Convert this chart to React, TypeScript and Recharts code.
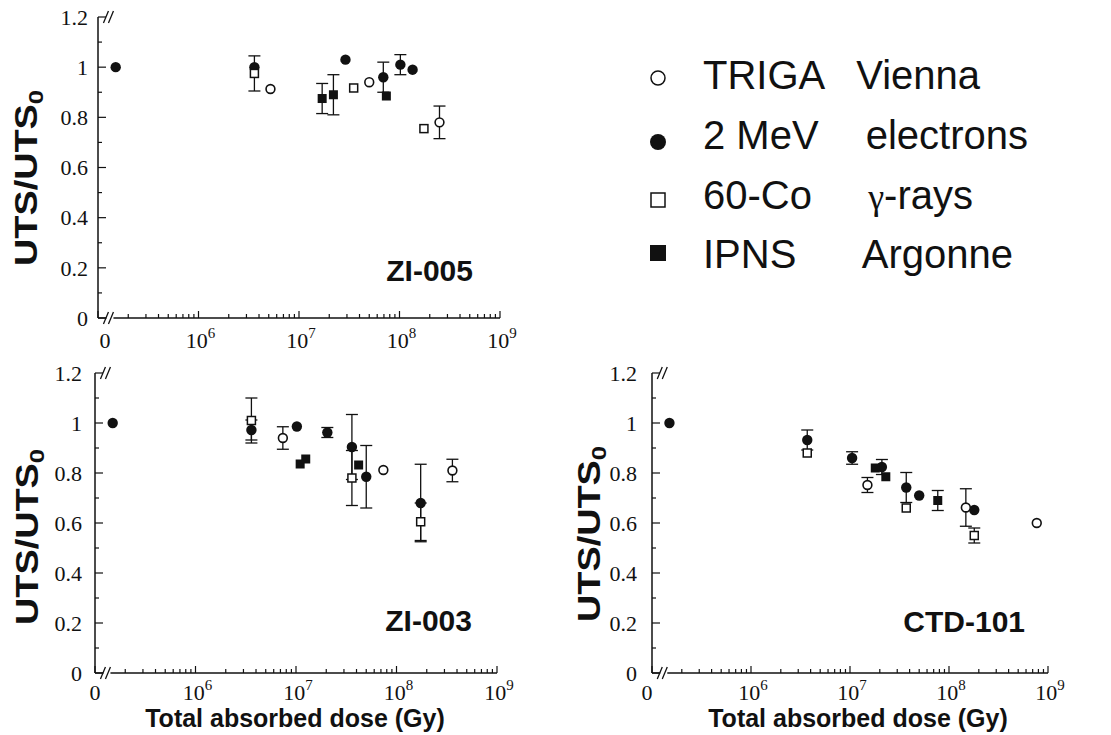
import { ScatterChart, Scatter, XAxis, YAxis, ErrorBar, ReferenceDot } from "recharts";

const INK = "#111";
const SERIF = "'Liberation Serif', 'Times New Roman', serif";
const SANS = "'Liberation Sans', Arial, sans-serif";

// the axis is broken: "0" sits at 1e5, unirradiated points just to its right
const ZERO_DOSE = 1.5e5;
const BREAK_DOSE = 1.33e5;

type Pt = { dose: number; uts: number; err?: number };

// ZI-005
const ZI005_TRIGA: Pt[] = [
  { dose: 5.2e6, uts: 0.913 },
  { dose: 5.0e7, uts: 0.94 },
  { dose: 2.5e8, uts: 0.78, err: 0.065 },
];
const ZI005_ELECTRONS: Pt[] = [
  { dose: ZERO_DOSE, uts: 1.0 },
  { dose: 3.6e6, uts: 1.0 },
  { dose: 2.9e7, uts: 1.03 },
  { dose: 6.9e7, uts: 0.96, err: 0.06 },
  { dose: 1.02e8, uts: 1.01, err: 0.04 },
  { dose: 1.35e8, uts: 0.99 },
];
const ZI005_COBALT: Pt[] = [
  { dose: 3.6e6, uts: 0.975, err: 0.07 },
  { dose: 3.5e7, uts: 0.917 },
  { dose: 1.75e8, uts: 0.755 },
];
const ZI005_IPNS: Pt[] = [
  { dose: 1.7e7, uts: 0.875, err: 0.06 },
  { dose: 2.2e7, uts: 0.89, err: 0.08 },
  { dose: 7.4e7, uts: 0.885 },
];

// ZI-003
const ZI003_TRIGA: Pt[] = [
  { dose: 7.4e6, uts: 0.94, err: 0.045 },
  { dose: 7.4e7, uts: 0.812 },
  { dose: 3.6e8, uts: 0.81, err: 0.045 },
];
const ZI003_ELECTRONS: Pt[] = [
  { dose: ZERO_DOSE, uts: 1.0 },
  { dose: 3.6e6, uts: 0.972, err: 0.04 },
  { dose: 1.02e7, uts: 0.986 },
  { dose: 2.05e7, uts: 0.962, err: 0.02 },
  { dose: 3.6e7, uts: 0.904, err: 0.13 },
  { dose: 5.0e7, uts: 0.785, err: 0.125 },
  { dose: 1.74e8, uts: 0.68, err: 0.155 },
];
const ZI003_COBALT: Pt[] = [
  { dose: 3.6e6, uts: 1.01, err: 0.09 },
  { dose: 3.6e7, uts: 0.78, err: 0.11 },
  { dose: 1.74e8, uts: 0.605, err: 0.075 },
];
const ZI003_IPNS: Pt[] = [
  { dose: 1.1e7, uts: 0.836 },
  { dose: 1.25e7, uts: 0.856 },
  { dose: 4.2e7, uts: 0.832 },
];

// CTD-101
const CTD101_TRIGA: Pt[] = [
  { dose: 1.5e7, uts: 0.752, err: 0.03 },
  { dose: 1.48e8, uts: 0.662, err: 0.075 },
  { dose: 7.7e8, uts: 0.6 },
];
const CTD101_ELECTRONS: Pt[] = [
  { dose: ZERO_DOSE, uts: 1.0 },
  { dose: 3.7e6, uts: 0.932, err: 0.04 },
  { dose: 1.05e7, uts: 0.86, err: 0.025 },
  { dose: 2.1e7, uts: 0.824, err: 0.03 },
  { dose: 3.7e7, uts: 0.742, err: 0.06 },
  { dose: 5.0e7, uts: 0.71 },
  { dose: 1.8e8, uts: 0.652 },
];
const CTD101_COBALT: Pt[] = [
  { dose: 3.7e6, uts: 0.88 },
  { dose: 3.7e7, uts: 0.66 },
  { dose: 1.8e8, uts: 0.55, err: 0.03 },
];
const CTD101_IPNS: Pt[] = [
  { dose: 1.8e7, uts: 0.82 },
  { dose: 2.3e7, uts: 0.785 },
  { dose: 7.7e7, uts: 0.69, err: 0.04 },
];

const LEGEND_FIRST = ["TRIGA", "2 MeV", "60-Co", "IPNS"];
const LEGEND_SECOND = ["Vienna", "electrons", "-rays", "Argonne"];

// axis ticks
const DECADES = [1e5, 1e6, 1e7, 1e8, 1e9];
const DECADE_EXP = ["", "6", "7", "8", "9"];
const MINOR_STEPS = [2, 3, 4, 5, 6, 7, 8, 9];
const X_TICKS = DECADES.flatMap((d, i) =>
  i < DECADES.length - 1 ? [d, ...MINOR_STEPS.map((m) => m * d)] : [d],
);
const Y_MAJOR = [0, 0.2, 0.4, 0.6, 0.8, 1, 1.2];
const Y_MINOR = [0.1, 0.3, 0.5, 0.7, 0.9, 1.1];
const Y_TICKS = [...Y_MAJOR, ...Y_MINOR].sort((a, b) => a - b);

// marker shapes
const FilledCircle = (p: any) => <circle cx={p.cx} cy={p.cy} r={5.2} fill={INK} />;
const OpenCircle = (p: any) => (
  <circle cx={p.cx} cy={p.cy} r={4.4} fill="#fff" stroke={INK} strokeWidth={1.6} />
);
const OpenSquare = (p: any) => (
  <rect x={p.cx - 4} y={p.cy - 4} width={8} height={8} fill="#fff" stroke={INK} strokeWidth={1.5} />
);
const FilledSquare = (p: any) => (
  <rect x={p.cx - 4.5} y={p.cy - 4.5} width={9} height={9} fill={INK} />
);

const BreakMark = (p: any) => (
  <g>
    <rect x={p.cx - 4} y={p.cy - 2} width={7} height={4} fill="#fff" />
    <line x1={p.cx - 7} y1={p.cy + 6} x2={p.cx - 2} y2={p.cy - 6} stroke={INK} strokeWidth={1.3} />
    <line x1={p.cx - 2} y1={p.cy + 6} x2={p.cx + 3} y2={p.cy - 6} stroke={INK} strokeWidth={1.3} />
  </g>
);

const decadeIndex = (v: number) => DECADES.indexOf(v);

function BottomTick(props: any) {
  const { x, y, payload, zeroDx, labelDy } = props;
  const i = decadeIndex(payload.value);
  return (
    <g>
      <line x1={x} x2={x} y1={y} y2={y - (i >= 0 ? 7 : 4)} stroke={INK} strokeWidth={1.2} />
      {i === 0 && (
        <text x={x + zeroDx} y={y + labelDy} textAnchor="middle" fontFamily={SERIF} fontSize={22} fill={INK}>
          0
        </text>
      )}
      {i > 0 && (
        <text x={x + 2} y={y + labelDy} textAnchor="middle" fontFamily={SERIF} fontSize={22} fill={INK}>
          10
          <tspan dy={-10} fontSize={15}>
            {DECADE_EXP[i]}
          </tspan>
        </text>
      )}
    </g>
  );
}

function TopTick(props: any) {
  const { x, y, payload } = props;
  const i = decadeIndex(payload.value);
  return <line x1={x} x2={x} y1={y} y2={y + (i >= 0 ? 7 : 4)} stroke={INK} strokeWidth={1.2} />;
}

function LeftTick(props: any) {
  const { x, y, payload, gap } = props;
  const major = Y_MAJOR.includes(payload.value);
  return (
    <g>
      <line x1={x} x2={x + (major ? 8 : 4)} y1={y} y2={y} stroke={INK} strokeWidth={1.2} />
      {major && (
        <text x={x - gap} y={y} dy="0.35em" textAnchor="end" fontFamily={SERIF} fontSize={22} fill={INK}>
          {String(payload.value)}
        </text>
      )}
    </g>
  );
}

function RightTick(props: any) {
  const { x, y, payload } = props;
  const major = Y_MAJOR.includes(payload.value);
  return <line x1={x} x2={x - (major ? 8 : 4)} y1={y} y2={y} stroke={INK} strokeWidth={1.2} />;
}

type PanelProps = {
  left: number;
  top: number;
  width: number;
  height: number;
  plotLeft: number;
  plotRight: number;
  plotTop: number;
  plotBottom: number;
  gap: number;
  zeroDx: number;
  labelDy: number;
  triga: Pt[];
  electrons: Pt[];
  cobalt: Pt[];
  ipns: Pt[];
};

function Panel(p: PanelProps) {
  const axisLine = { stroke: INK, strokeWidth: 1.5 };
  return (
    <div style={{ position: "absolute", left: p.left, top: p.top }}>
      <ScatterChart
        width={p.width}
        height={p.height}
        margin={{ top: p.plotTop, right: p.width - p.plotRight, bottom: 0, left: 0 }}
      >
        <XAxis
          dataKey="dose"
          type="number"
          scale="log"
          domain={[1e5, 1e9]}
          allowDataOverflow
          ticks={X_TICKS}
          interval={0}
          tickSize={0}
          tickMargin={0}
          tickLine={false}
          axisLine={axisLine}
          height={p.height - p.plotBottom}
          tick={<BottomTick zeroDx={p.zeroDx} labelDy={p.labelDy} />}
        />
        <XAxis
          xAxisId="top"
          orientation="top"
          type="number"
          scale="log"
          domain={[1e5, 1e9]}
          allowDataOverflow
          ticks={X_TICKS}
          interval={0}
          tickSize={0}
          tickMargin={0}
          tickLine={false}
          axisLine={axisLine}
          height={0}
          tick={<TopTick />}
        />
        <YAxis
          dataKey="uts"
          type="number"
          domain={[0, 1.2]}
          allowDataOverflow
          ticks={Y_TICKS}
          interval={0}
          tickSize={0}
          tickMargin={0}
          tickLine={false}
          axisLine={axisLine}
          width={p.plotLeft}
          tick={<LeftTick gap={p.gap} />}
        />
        <YAxis
          yAxisId="right"
          orientation="right"
          type="number"
          domain={[0, 1.2]}
          allowDataOverflow
          ticks={Y_TICKS}
          interval={0}
          tickSize={0}
          tickMargin={0}
          tickLine={false}
          axisLine={axisLine}
          width={0}
          tick={<RightTick />}
        />
        <Scatter data={p.electrons} shape={FilledCircle} isAnimationActive={false}>
          <ErrorBar dataKey="err" direction="y" width={6} stroke={INK} strokeWidth={1.3} />
        </Scatter>
        <Scatter data={p.ipns} shape={FilledSquare} isAnimationActive={false}>
          <ErrorBar dataKey="err" direction="y" width={6} stroke={INK} strokeWidth={1.3} />
        </Scatter>
        <Scatter data={p.cobalt} shape={OpenSquare} isAnimationActive={false}>
          <ErrorBar dataKey="err" direction="y" width={6} stroke={INK} strokeWidth={1.3} />
        </Scatter>
        <Scatter data={p.triga} shape={OpenCircle} isAnimationActive={false}>
          <ErrorBar dataKey="err" direction="y" width={6} stroke={INK} strokeWidth={1.3} />
        </Scatter>
        <ReferenceDot x={BREAK_DOSE} y={0} shape={BreakMark} />
        <ReferenceDot x={BREAK_DOSE} y={1.2} shape={BreakMark} />
      </ScatterChart>
    </div>
  );
}

function YTitle({ x, y }: { x: number; y: number }) {
  return (
    <text
      transform={`translate(${x},${y}) rotate(-90)`}
      textAnchor="middle"
      fontFamily={SANS}
      fontWeight="bold"
      fontSize={31}
      fill={INK}
      textLength={176}
      lengthAdjust="spacingAndGlyphs"
    >
      UTS/UTS
      <tspan fontSize={21} dy={6}>
        0
      </tspan>
    </text>
  );
}

function Overlay() {
  const baselines = [89, 149, 209, 268];
  const secondEnd = [980, 1028, 973, 1013];
  return (
    <svg
      width={1111}
      height={735}
      style={{ position: "absolute", left: 0, top: 0, pointerEvents: "none" }}
    >
      <YTitle x={37} y={178} />
      <YTitle x={38} y={537} />
      <YTitle x={600} y={534} />

      <text x={473} y={281} textAnchor="end" fontFamily={SANS} fontWeight="bold" fontSize={30} fill={INK}>
        ZI-005
      </text>
      <text x={472} y={631} textAnchor="end" fontFamily={SANS} fontWeight="bold" fontSize={30} fill={INK}>
        ZI-003
      </text>
      <text x={1025} y={632} textAnchor="end" fontFamily={SANS} fontWeight="bold" fontSize={30} fill={INK}>
        CTD-101
      </text>

      <text x={295} y={727} textAnchor="middle" fontFamily={SANS} fontWeight="bold" fontSize={25} fill={INK}>
        Total absorbed dose (Gy)
      </text>
      <text x={858} y={727} textAnchor="middle" fontFamily={SANS} fontWeight="bold" fontSize={25} fill={INK}>
        Total absorbed dose (Gy)
      </text>

      {/* legend */}
      <circle cx={658} cy={78} r={7} fill="#fff" stroke={INK} strokeWidth={1.5} />
      <circle cx={658} cy={142} r={8} fill={INK} />
      <rect x={651} y={193} width={14} height={14} fill="#fff" stroke={INK} strokeWidth={1.5} />
      <rect x={650} y={245} width={16} height={16} fill={INK} />
      {LEGEND_FIRST.map((a, i) => (
        <g key={a}>
          <text x={703} y={baselines[i]} fontFamily={SANS} fontSize={40} fill={INK}>
            {a}
          </text>
          <text x={secondEnd[i]} y={baselines[i]} textAnchor="end" fontFamily={SANS} fontSize={40} fill={INK}>
            {i === 2 && (
              <tspan fontFamily={SERIF} fontSize={36}>
                {"\u03b3"}
              </tspan>
            )}
            {LEGEND_SECOND[i]}
          </text>
        </g>
      ))}
    </svg>
  );
}

export default function App() {
  return (
    <div style={{ position: "absolute", left: 0, top: 0, width: 1111, height: 735, background: "#fff" }}>
      <Panel
        left={0}
        top={0}
        width={520}
        height={360}
        plotLeft={98}
        plotRight={500}
        plotTop={17}
        plotBottom={318}
        gap={10}
        zeroDx={7}
        labelDy={30}
        triga={ZI005_TRIGA}
        electrons={ZI005_ELECTRONS}
        cobalt={ZI005_COBALT}
        ipns={ZI005_IPNS}
      />
      <Panel
        left={0}
        top={360}
        width={520}
        height={375}
        plotLeft={95}
        plotRight={497}
        plotTop={13}
        plotBottom={313}
        gap={13}
        zeroDx={0}
        labelDy={27}
        triga={ZI003_TRIGA}
        electrons={ZI003_ELECTRONS}
        cobalt={ZI003_COBALT}
        ipns={ZI003_IPNS}
      />
      <Panel
        left={540}
        top={360}
        width={540}
        height={375}
        plotLeft={112}
        plotRight={508}
        plotTop={13}
        plotBottom={313}
        gap={15}
        zeroDx={-5}
        labelDy={27}
        triga={CTD101_TRIGA}
        electrons={CTD101_ELECTRONS}
        cobalt={CTD101_COBALT}
        ipns={CTD101_IPNS}
      />
      <Overlay />
    </div>
  );
}
